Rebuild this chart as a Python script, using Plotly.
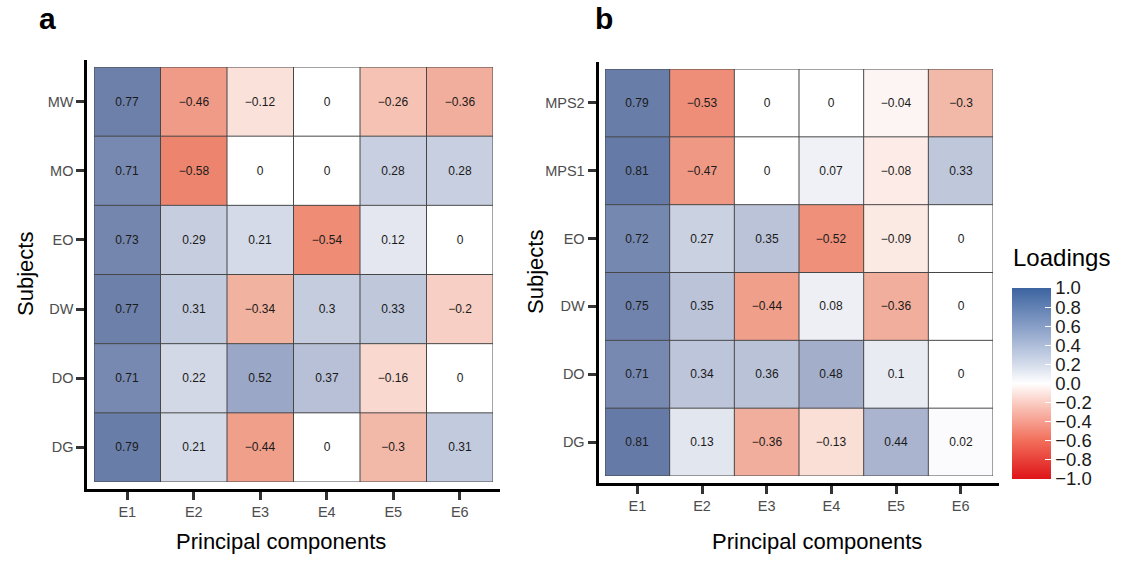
import plotly.graph_objects as go

W, H = 1121, 561

components = ["E1", "E2", "E3", "E4", "E5", "E6"]

subjects_a = ["MW", "MO", "EO", "DW", "DO", "DG"]  # top to bottom
loadings_a = [
    [0.77, -0.46, -0.12, 0, -0.26, -0.36],
    [0.71, -0.58, 0, 0, 0.28, 0.28],
    [0.73, 0.29, 0.21, -0.54, 0.12, 0],
    [0.77, 0.31, -0.34, 0.3, 0.33, -0.2],
    [0.71, 0.22, 0.52, 0.37, -0.16, 0],
    [0.79, 0.21, -0.44, 0, -0.3, 0.31],
]

subjects_b = ["MPS2", "MPS1", "EO", "DW", "DO", "DG"]  # top to bottom
loadings_b = [
    [0.79, -0.53, 0, 0, -0.04, -0.3],
    [0.81, -0.47, 0, 0.07, -0.08, 0.33],
    [0.72, 0.27, 0.35, -0.52, -0.09, 0],
    [0.75, 0.35, -0.44, 0.08, -0.36, 0],
    [0.71, 0.34, 0.36, 0.48, 0.1, 0],
    [0.81, 0.13, -0.36, -0.13, 0.44, 0.02],
]

colorbar_ticks = [1.0, 0.8, 0.6, 0.4, 0.2, 0.0, -0.2, -0.4, -0.6, -0.8, -1.0]

FONT = "Liberation Sans, Arial, Helvetica, sans-serif"


def scale(stops):
    return [[(v + 1) / 2, c] for v, c in stops]


tile_scale = scale([
    (-1.0, "rgb(228,55,30)"),
    (-0.58, "rgb(237,133,110)"),
    (-0.3, "rgb(243,185,168)"),
    (-0.12, "rgb(250,225,218)"),
    (0.0, "rgb(255,255,255)"),
    (0.12, "rgb(228,231,240)"),
    (0.28, "rgb(200,207,224)"),
    (0.52, "rgb(155,167,198)"),
    (0.77, "rgb(108,128,170)"),
    (1.0, "rgb(65,92,145)"),
])

bar_scale = scale([
    (-1.0, "rgb(222,20,25)"),
    (-0.6, "rgb(242,110,90)"),
    (-0.2, "rgb(250,205,195)"),
    (0.0, "rgb(255,255,255)"),
    (0.2, "rgb(212,220,235)"),
    (0.6, "rgb(135,158,198)"),
    (1.0, "rgb(60,100,160)"),
])


def fmt(v):
    return f"{v:g}".replace("-", "\u2212")


fig = go.Figure()


def add_panel(subjects, z, xa, ya, xd, yd):
    subj = subjects[::-1]   # first subject drawn at the top
    zz = z[::-1]
    nx, ny = len(components), len(subj)
    fig.add_trace(go.Heatmap(
        z=zz,
        x=list(range(nx)),
        y=list(range(ny)),
        text=[[fmt(v) for v in row] for row in zz],
        texttemplate="%{text}",
        textfont=dict(size=12, color="#1a1a1a", family=FONT),
        coloraxis="coloraxis",
        xaxis=xa, yaxis=ya,
        hoverinfo="skip",
    ))
    # tile outlines, built from the grid dimensions
    gx, gy = [], []
    for i in range(nx + 1):
        gx += [i - 0.5, i - 0.5, None]
        gy += [-0.5, ny - 0.5, None]
    for j in range(ny + 1):
        gx += [-0.5, nx - 0.5, None]
        gy += [j - 0.5, j - 0.5, None]
    fig.add_trace(go.Scatter(x=gx, y=gy, mode="lines",
                             line=dict(color="#474747", width=1),
                             xaxis=xa, yaxis=ya, showlegend=False,
                             hoverinfo="skip"))
    # decoration axes (lines, ticks, labels) need a trace to exist
    fig.add_trace(go.Scatter(x=[None], y=[None], mode="markers",
                             xaxis=xd, yaxis=yd, showlegend=False,
                             hoverinfo="skip"))
    return subj


sa = add_panel(subjects_a, loadings_a, "x", "y", "x3", "y3")
sb = add_panel(subjects_b, loadings_b, "x2", "y2", "x4", "y4")

# dummy trace carrying the legend colour bar
fig.add_trace(go.Scatter(
    x=[None], y=[None], mode="markers",
    marker=dict(color=[0], coloraxis="coloraxis2"),
    showlegend=False, xaxis="x4", yaxis="y4", hoverinfo="skip",
))


def px_x(p):
    return p / W


def px_y(p):
    return 1 - p / H


n = len(components)

tile_axis = dict(
    showline=False, showticklabels=False, ticks="", showgrid=False,
    zeroline=False, range=[-0.5, n - 0.5], fixedrange=True,
)

deco_axis = dict(
    showline=True, linecolor="black", linewidth=3,
    ticks="outside", ticklen=8, tickwidth=3, tickcolor="#333333",
    tickfont=dict(size=14.5, color="#4d4d4d", family=FONT),
    showgrid=False, zeroline=False,
    range=[-0.6, n - 0.4], fixedrange=True,
    tickvals=list(range(n)),
)

# panel geometry (pixels)
A_TILE = dict(x0=94, x1=493, y0=67, y1=482)
B_TILE = dict(x0=605, x1=993, y0=69, y1=476)


def deco(t):
    px = (t["x1"] - t["x0"]) / n * 0.1
    py = (t["y1"] - t["y0"]) / n * 0.1
    return dict(x0=t["x0"] - px, x1=t["x1"] + px, y0=t["y0"] - py, y1=t["y1"] + py)


A_DECO, B_DECO = deco(A_TILE), deco(B_TILE)

fig.update_layout(
    width=W, height=H,
    margin=dict(l=0, r=0, t=0, b=0, autoexpand=False),
    paper_bgcolor="white", plot_bgcolor="rgba(0,0,0,0)",
    font=dict(family=FONT),
    xaxis=dict(tile_axis, domain=[px_x(A_TILE["x0"]), px_x(A_TILE["x1"])], anchor="y"),
    yaxis=dict(tile_axis, domain=[px_y(A_TILE["y1"]), px_y(A_TILE["y0"])], anchor="x"),
    xaxis2=dict(tile_axis, domain=[px_x(B_TILE["x0"]), px_x(B_TILE["x1"])], anchor="y2"),
    yaxis2=dict(tile_axis, domain=[px_y(B_TILE["y1"]), px_y(B_TILE["y0"])], anchor="x2"),
    xaxis3=dict(deco_axis, domain=[px_x(A_DECO["x0"]), px_x(A_DECO["x1"])], anchor="y3",
                ticktext=components),
    yaxis3=dict(deco_axis, domain=[px_y(A_DECO["y1"]), px_y(A_DECO["y0"])], anchor="x3",
                ticktext=sa),
    xaxis4=dict(deco_axis, domain=[px_x(B_DECO["x0"]), px_x(B_DECO["x1"])], anchor="y4",
                ticktext=components),
    yaxis4=dict(deco_axis, domain=[px_y(B_DECO["y1"]), px_y(B_DECO["y0"])], anchor="x4",
                ticktext=sb),
    coloraxis=dict(colorscale=tile_scale, cmin=-1, cmax=1, showscale=False),
    coloraxis2=dict(
        colorscale=bar_scale, cmin=-1, cmax=1, showscale=True,
        colorbar=dict(
            x=px_x(1012), xanchor="left", xpad=0, ypad=0,
            y=px_y(383.5), yanchor="middle",
            len=191 / H, lenmode="fraction", thickness=39,
            outlinewidth=0,
            tickvals=colorbar_ticks, tickformat=".1f",
            ticks="inside", ticklen=6, tickwidth=1, tickcolor="white",
            tickfont=dict(size=18.5, color="#1a1a1a", family=FONT),
        ),
    ),
    showlegend=False,
)

ann = [
    dict(text="<b>a</b>", x=px_x(48), y=px_y(19), font=dict(size=30, color="black")),
    dict(text="<b>b</b>", x=px_x(604), y=px_y(19), font=dict(size=30, color="black")),
    dict(text="Principal components", x=px_x(281), y=px_y(541), font=dict(size=22, color="black")),
    dict(text="Principal components", x=px_x(817), y=px_y(541), font=dict(size=22, color="black")),
    dict(text="Subjects", x=px_x(25), y=px_y(274), textangle=-90, font=dict(size=22, color="black")),
    dict(text="Subjects", x=px_x(535), y=px_y(272), textangle=-90, font=dict(size=22, color="black")),
    dict(text="Loadings", x=px_x(1061), y=px_y(257), font=dict(size=24, color="black")),
]
for a in ann:
    a.update(xref="paper", yref="paper", showarrow=False,
             xanchor="center", yanchor="middle")
    a["font"]["family"] = FONT
fig.update_layout(annotations=ann)

fig.write_html(
    "out.html",
    config={"displayModeBar": False, "staticPlot": True},
    post_script="document.body.style.margin='0px';document.body.style.overflow='hidden';",
)
